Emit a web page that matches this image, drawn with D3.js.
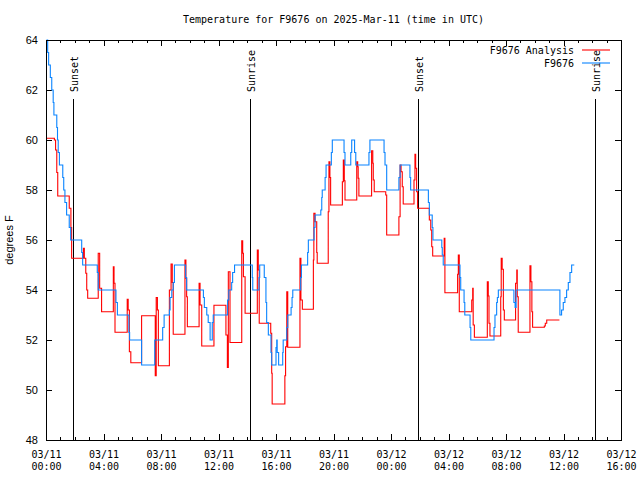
<!DOCTYPE html>
<html><head><meta charset="utf-8">
<script src="https://cdn.jsdelivr.net/npm/d3@7"></script>
<style>
html,body{margin:0;padding:0;background:#fff;}
svg{display:block;}
.mono{font-family:"DejaVu Sans Mono",monospace;font-size:10px;}
.sans{font-family:"Liberation Sans","DejaVu Sans",sans-serif;font-size:11px;}
</style>
</head><body>
<svg id="c" width="640" height="480"></svg>
<script>
// ---- data (minutes after 2025-03-11 00:00 UTC, temperatures in degrees F) ----
const obsMinutes = [2,7,11,18,24,30,33,45,48,51,56,70,74,79,86,97,103,149,153,214,218,292,298,346,349,399,454,487,493,515,518,525,531,536,583,587,657,661,671,677,685,694,698,758,763,775,779,787,861,863,889,892,911,918,921,928,939,942,960,963,965,971,988,990,1005,1009,1023,1027,1030,1063,1066,1092,1095,1119,1123,1147,1151,1153,1165,1169,1191,1195,1244,1248,1272,1276,1288,1293,1348,1352,1411,1415,1422,1473,1478,1519,1522,1596,1600,1612,1615,1652,1654,1658,1728,1731,1745,1748,1770,1773,1870,1874,1881,1884,1888,1953,1958,1962,2145,2152,2159,2166,2173,2180,2187,2194,2205];
const obsTemps   = [64,63.5,63,62.5,62,61.5,61,60.5,60,59.5,59,58.5,58,57.5,57,56.5,56,55.5,55,54.7,54,53.5,53,52.3,52,51,52,52.5,53,53.2,53.7,54,54.3,55,54.5,54,53.7,53.3,53,52.7,52,52.7,53,53.6,54,54.3,54.7,55,54.5,54,54.5,55,54.5,53.5,52.7,52.2,51.5,51,51.7,52,51.5,51,51.5,52,52.5,53,53.3,53.7,54,54.5,55,55.5,56,56.5,57,57.2,57.7,58,58.5,59,59.5,60,59.5,59,59.5,60,59.5,59,59.5,60,59.5,59,58,58.5,59,58.5,58,57.5,57,56.5,56,55.7,55.4,55,54.5,54,53.5,53,52.5,52,52.5,53,53.5,53.7,54,53.5,53.3,54,53,53.2,53.5,53.7,54,54.3,54.7,55,55];

const anaMinutes = [3,35,40,45,49,97,104,107,156,160,166,170,174,218,224,232,281,284,288,339,343,348,354,399,456,460,465,469,515,522,527,531,580,584,587,590,639,643,650,701,751,757,761,768,817,821,824,831,882,886,890,938,942,944,997,1000,1005,1009,1060,1064,1070,1116,1118,1123,1130,1132,1178,1181,1185,1188,1237,1241,1245,1248,1297,1301,1303,1306,1359,1364,1366,1370,1418,1422,1473,1478,1482,1487,1491,1536,1540,1543,1547,1551,1600,1606,1610,1614,1662,1665,1718,1721,1725,1777,1781,1783,1788,1842,1846,1849,1853,1898,1900,1904,1909,1913,1960,1965,1967,1971,2020,2024,2028,2031,2080,2084,2090,2143];
const anaTemps   = [60.07,60,59.6,58.7,57.76,57.27,56.5,55.27,55.67,55.27,54.67,54,53.67,55.47,54.07,53.13,54.93,54.27,52.31,53.63,53.2,51.53,51.09,52.97,50.57,53.7,53.2,50.97,54,55.04,54.3,52.23,55.2,54.47,53.73,52.53,54.27,53.4,51.76,53.39,52.2,50.9,54.73,51.9,55.97,55.47,54.53,53.07,55.6,54.8,52.67,52.27,50.67,49.44,50.57,51.73,53.93,51.71,55.27,53.6,53.23,55.2,57.07,56.73,55.5,55.07,57.13,59.13,58.5,57.4,58.33,59.2,58.37,57.6,59.13,58.93,58.47,57.76,59.57,59.07,58.4,57.93,57.8,56.2,56.93,59,58.73,58.13,57.44,58.4,59.43,58.87,57.93,57.27,56.8,56.4,55.73,55.36,56.07,53.89,54.63,55.4,53.13,53.6,54.07,52.6,52.11,54.33,53.76,52.67,52.16,53.73,55.27,54.83,53.2,52.8,54.27,54.8,53.73,52.31,54.97,54.33,53.13,52.51,52.56,52.67,52.8,52.8];

const sunEvents = [
  {label:"Sunset",  time:"2025-03-11T01:54:00Z"},
  {label:"Sunrise", time:"2025-03-11T14:13:00Z"},
  {label:"Sunset",  time:"2025-03-12T01:54:00Z"},
  {label:"Sunrise", time:"2025-03-12T14:13:00Z"}
];
const seriesNames = ["F9676 Analysis","F9676"];
const seriesColors = ["#ff0000","#0a84ff"];
const yTicks = [48,50,52,54,56,58,60,62,64];
const titleText = "Temperature for F9676 on 2025-Mar-11 (time in UTC)";
const yLabel = "degrees F";

// ---- drawing ----
const t0 = Date.UTC(2025,2,11,0,0);
const toDate = m => new Date(t0 + m*60000);
const L=46, R=621, T=40, B=440;
const x = d3.scaleUtc().domain([new Date("2025-03-11T00:00:00Z"), new Date("2025-03-12T16:00:00Z")]).range([L,R]);
const y = d3.scaleLinear().domain([48,64]).range([B,T]);
const svg = d3.select("#c");

const majorX = d3.utcHour.every(4).range(x.domain()[0], new Date(+x.domain()[1]+1));
const minorX = d3.utcHour.every(1).range(x.domain()[0], new Date(+x.domain()[1]+1));

// minor ticks bottom/top
svg.append("g").attr("transform",`translate(0,${B})`)
  .call(d3.axisBottom(x).tickValues(minorX).tickSize(-3).tickFormat(""))
  .call(g=>g.select(".domain").remove());
svg.append("g").attr("transform",`translate(0,${T})`)
  .call(d3.axisTop(x).tickValues(minorX).tickSize(-3).tickFormat(""))
  .call(g=>g.select(".domain").remove());
// major ticks bottom with labels
const fmtD = d3.utcFormat("%m/%d"), fmtT = d3.utcFormat("%H:%M");
const gx = svg.append("g").attr("transform",`translate(0,${B})`)
  .call(d3.axisBottom(x).tickValues(majorX).tickSize(-6).tickFormat(""));
gx.select(".domain").remove();
gx.selectAll(".tick").append("text").attr("class","mono").attr("fill","#000").attr("text-anchor","middle")
  .each(function(d){
    const t=d3.select(this);
    t.append("tspan").attr("x",0).attr("y",18).text(fmtD(d));
    t.append("tspan").attr("x",0).attr("y",30).text(fmtT(d));
  });
svg.append("g").attr("transform",`translate(0,${T})`)
  .call(d3.axisTop(x).tickValues(majorX).tickSize(-6).tickFormat(""))
  .call(g=>g.select(".domain").remove());
// y axes
const gy = svg.append("g").attr("transform",`translate(${L},0)`)
  .call(d3.axisLeft(y).tickValues(yTicks).tickSize(-6).tickPadding(8).tickFormat(d3.format("d")));
gy.select(".domain").remove();
gy.selectAll("text").attr("class","sans");
svg.append("g").attr("transform",`translate(${R},0)`)
  .call(d3.axisRight(y).tickValues(yTicks).tickSize(-6).tickFormat(""))
  .call(g=>g.select(".domain").remove());
svg.selectAll(".tick line").attr("stroke","#000").attr("shape-rendering","crispEdges");
svg.selectAll("g").attr("font-size",null).attr("font-family",null);

// sun lines
sunEvents.forEach(s=>{
  const xs = Math.round(x(new Date(s.time)))+0.5;
  svg.append("line").attr("x1",xs).attr("x2",xs).attr("y1",99).attr("y2",B).attr("stroke","#000").attr("stroke-width",1);
  svg.append("text").attr("class","mono").attr("transform",`translate(${xs+0.5},92) rotate(-90)`)
    .attr("text-anchor","start").attr("dy","0.35em").text(s.label);
});

// series
const line = d3.line().curve(d3.curveStepAfter).x(d=>x(d[0])).y(d=>y(d[1]));
const anaData = anaMinutes.map((m,i)=>[toDate(m),anaTemps[i]]);
const obsData = obsMinutes.map((m,i)=>[toDate(m),obsTemps[i]]);
svg.append("path").attr("d",line(anaData)).attr("fill","none").attr("stroke",seriesColors[0]).attr("stroke-width",1.1);
svg.append("path").attr("d",line(obsData)).attr("fill","none").attr("stroke",seriesColors[1]).attr("stroke-width",1.1);

// border
svg.append("rect").attr("x",L+0.5).attr("y",T+0.5).attr("width",R-L).attr("height",B-T)
  .attr("fill","none").attr("stroke","#000").attr("stroke-width",1);

// title & labels
svg.append("text").attr("class","mono").attr("x",(L+R)/2).attr("y",23).attr("text-anchor","middle").text(titleText);
svg.append("text").attr("class","sans").attr("transform",`translate(13,240) rotate(-90)`).attr("text-anchor","middle").text(yLabel);

// legend
seriesNames.forEach((n,i)=>{
  const yy = 50 + i*13;
  svg.append("text").attr("class","mono").attr("x",574).attr("y",yy+4).attr("text-anchor","end").text(n);
  svg.append("line").attr("x1",582).attr("x2",610).attr("y1",yy).attr("y2",yy).attr("stroke",seriesColors[i]).attr("stroke-width",1.1);
});
</script>
</body></html>
